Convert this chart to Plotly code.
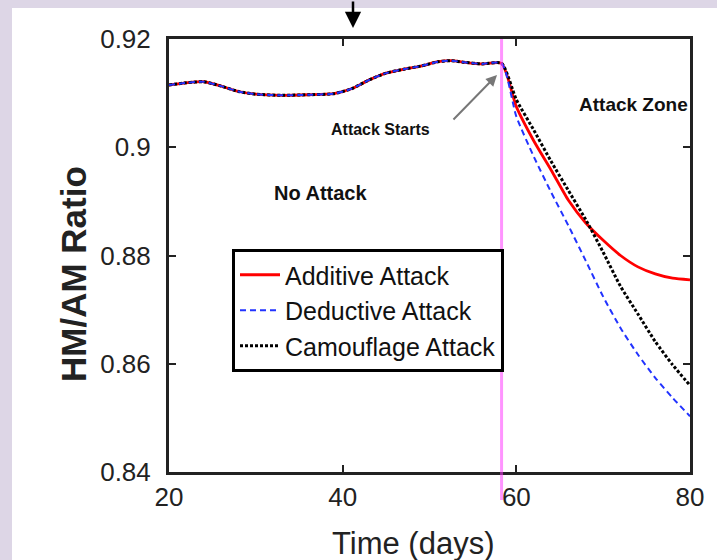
import plotly.graph_objects as go

# ---------------- data ----------------
days_pre = [20, 22, 24, 26, 28, 30, 33, 36, 39, 41, 43, 45, 47, 49, 51, 52.5, 54, 56, 58.3]
ratio_pre = [0.9115, 0.9119, 0.9121, 0.9113, 0.9103, 0.9098, 0.9096, 0.9097, 0.9099, 0.9108,
             0.9124, 0.9137, 0.9144, 0.9150, 0.9158, 0.9160, 0.9157, 0.9154, 0.9155]

days_post = [60, 62, 64, 66, 68, 70, 72, 74, 76, 78, 80]
additive = [0.9075, 0.9012, 0.8958, 0.8902, 0.8860, 0.8828, 0.8800, 0.8779, 0.8766, 0.8758, 0.8755]
deductive = [0.9057, 0.8983, 0.8917, 0.8855, 0.8790, 0.8724, 0.8666, 0.8617, 0.8574, 0.8537, 0.8503]
camouflage = [0.9088, 0.9032, 0.8974, 0.8920, 0.8866, 0.8806, 0.8743, 0.8692, 0.8641, 0.8598, 0.8560]

attack_day = 58.3
x_ticks = [20, 40, 60, 80]
y_ticks = [0.84, 0.86, 0.88, 0.90, 0.92]
y_ticklabels = ["0.84", "0.86", "0.88", "0.9", "0.92"]

series_names = ["Additive Attack", "Deductive Attack", "Camouflage Attack"]

# ---------------- figure ----------------
W, H = 717, 560
L, R, T, B = 169, 27, 39, 88
pw, ph = W - L - R, H - T - B


def px(xp):
    return (xp - L) / pw


def py(yp):
    return (H - B - yp) / ph


fig = go.Figure()

all_days = days_pre + days_post
styles = {
    "Additive Attack": dict(color="#ff0000", width=2.8, dash="solid"),
    "Deductive Attack": dict(color="#2233ff", width=2, dash="6px,4px"),
    "Camouflage Attack": dict(color="#000000", width=3, dash="3px,2px"),
}
values = {"Additive Attack": additive, "Deductive Attack": deductive, "Camouflage Attack": camouflage}
ranks = {"Additive Attack": 1, "Deductive Attack": 2, "Camouflage Attack": 3}

for name in ["Additive Attack", "Camouflage Attack", "Deductive Attack"]:
    fig.add_trace(go.Scatter(
        x=all_days, y=ratio_pre + values[name], mode="lines", name=name,
        line=dict(shape="spline", smoothing=0.6, **styles[name]),
        legendrank=ranks[name],
    ))

font_main = "Liberation Sans, Arial, sans-serif"

shapes = [
    # lavender frame bands
    dict(type="rect", xref="paper", yref="paper", x0=px(-5), x1=px(730), y0=py(8), y1=py(-5),
         fillcolor="#ddd6e6", line=dict(width=0), layer="above"),
    dict(type="rect", xref="paper", yref="paper", x0=px(-5), x1=px(12), y0=py(570), y1=py(-5),
         fillcolor="#ddd6e6", line=dict(width=0), layer="above"),
    # attack start vertical line
    dict(type="line", xref="x", yref="paper", x0=attack_day, x1=attack_day, y0=py(500), y1=1,
         line=dict(color="rgba(255,60,255,0.55)", width=3), layer="above"),
]

annotations = [
    dict(text="<b>No Attack</b>", x=px(320), y=py(193), xref="paper", yref="paper", showarrow=False,
         font=dict(family=font_main, size=20, color="#111"), xanchor="center", yanchor="middle"),
    dict(text="<b>Attack Zone</b>", x=px(690), y=py(105), xref="paper", yref="paper", showarrow=False,
         font=dict(family=font_main, size=19, color="#111"), xanchor="right", yanchor="middle"),
    dict(text="<b>Attack Starts</b>", x=px(380), y=py(129), xref="paper", yref="paper", showarrow=False,
         font=dict(family=font_main, size=16, color="#111"), xanchor="center", yanchor="middle"),
    # gray arrow to the attack start
    dict(text="", x=px(497), y=py(75), xref="paper", yref="paper", showarrow=True,
         ax=-45, ay=46, arrowhead=2, arrowsize=1.1, arrowwidth=2, arrowcolor="#777"),
    # black arrow at the top
    dict(text="", x=px(353), y=py(28), xref="paper", yref="paper", showarrow=True,
         ax=0, ay=-30, arrowhead=2, arrowsize=1.3, arrowwidth=2.5, arrowcolor="#000"),
    # axis titles
    dict(text="Time (days)", x=px(413), y=py(543), xref="paper", yref="paper", showarrow=False,
         font=dict(family=font_main, size=31, color="#222"), xanchor="center", yanchor="middle"),
    dict(text="<b>HM/AM Ratio</b>", x=px(73), y=py(274), xref="paper", yref="paper", showarrow=False,
         textangle=-90, font=dict(family=font_main, size=35, color="#222"),
         xanchor="center", yanchor="middle"),
]

fig.update_layout(
    width=W, height=H,
    margin=dict(l=L, r=R, t=T, b=B, pad=0),
    paper_bgcolor="white", plot_bgcolor="white",
    showlegend=True,
    legend=dict(x=px(232), y=py(249), xanchor="left", yanchor="top",
                bgcolor="white", bordercolor="#000", borderwidth=3,
                font=dict(family=font_main, size=25, color="#111"),
                itemwidth=40, tracegroupgap=0),
    shapes=shapes, annotations=annotations,
)

fig.update_xaxes(range=[20, 80], tickvals=x_ticks, ticktext=[str(v) for v in x_ticks],
                 showline=True, linecolor="#222", linewidth=3, mirror="ticks",
                 ticks="inside", ticklen=7, tickwidth=2, tickcolor="#222",
                 showgrid=False, zeroline=False,
                 tickfont=dict(family=font_main, size=26, color="#222"))
fig.update_yaxes(range=[0.84, 0.92], tickvals=y_ticks, ticktext=y_ticklabels,
                 showline=True, linecolor="#222", linewidth=3, mirror="ticks",
                 ticks="inside", ticklen=7, tickwidth=2, tickcolor="#222",
                 showgrid=False, zeroline=False, ticklabelstandoff=10,
                 tickfont=dict(family=font_main, size=26, color="#222"))

fig.write_html(
    "out.html",
    config={"displayModeBar": False},
    post_script="document.body.style.margin='0';document.body.style.overflow='hidden';",
)
